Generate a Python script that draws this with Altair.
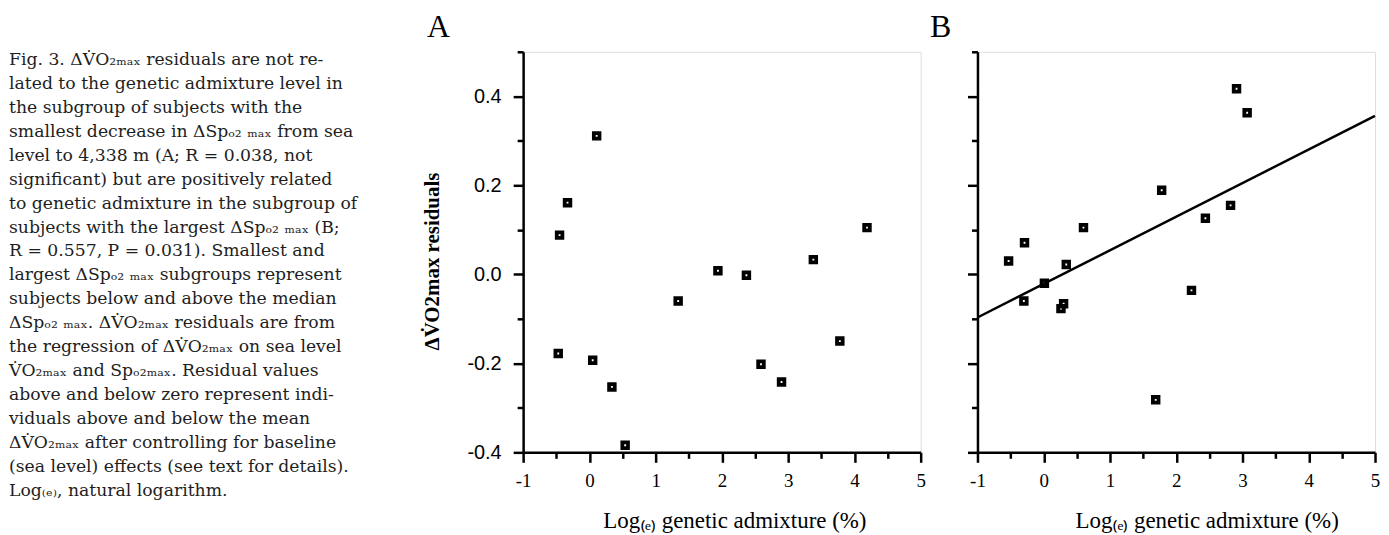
import altair as alt
import pandas as pd

# Panel A data (log(e) genetic admixture, residuals)
a_x = [-0.45, -0.33, 0.11, -0.47, 0.05, 0.34, 0.54, 1.34, 1.94, 2.37, 2.59, 2.90, 3.38, 3.78, 4.19]
a_y = [0.088, 0.161, 0.311, -0.178, -0.193, -0.253, -0.384, -0.060, 0.008, -0.002, -0.202, -0.242, 0.033, -0.150, 0.105]

# Panel B data
b_x = [-0.53, -0.29, -0.30, 0.01, 0.26, 0.30, 0.34, 0.60, 1.69, 1.78, 2.23, 2.44, 2.82, 2.91, 3.07]
b_y = [0.030, 0.071, -0.060, -0.020, -0.077, -0.066, 0.022, 0.105, -0.282, 0.189, -0.036, 0.126, 0.155, 0.417, 0.363]

# Regression line in panel B (end points)
line_x = [-1, 5]
line_y = [-0.097, 0.356]

caption_lines = [
    "Fig. 3. ΔV̇O₂ₘₐₓ residuals are not re-",
    "lated to the genetic admixture level in",
    "the subgroup of subjects with the",
    "smallest decrease in ΔSpₒ₂ ₘₐₓ from sea",
    "level to 4,338 m (A; R = 0.038, not",
    "significant) but are positively related",
    "to genetic admixture in the subgroup of",
    "subjects with the largest ΔSpₒ₂ ₘₐₓ (B;",
    "R = 0.557, P = 0.031). Smallest and",
    "largest ΔSpₒ₂ ₘₐₓ subgroups represent",
    "subjects below and above the median",
    "ΔSpₒ₂ ₘₐₓ. ΔV̇O₂ₘₐₓ residuals are from",
    "the regression of ΔV̇O₂ₘₐₓ on sea level",
    "V̇O₂ₘₐₓ and Spₒ₂ₘₐₓ. Residual values",
    "above and below zero represent indi-",
    "viduals above and below the mean",
    "ΔV̇O₂ₘₐₓ after controlling for baseline",
    "(sea level) effects (see text for details).",
    "Log₍ₑ₎, natural logarithm.",
]

x_major = [-1, 0, 1, 2, 3, 4, 5]
x_minor = [-0.5, 0.5, 1.5, 2.5, 3.5, 4.5]
y_major = [-0.4, -0.2, 0.0, 0.2, 0.4]
y_minor = [-0.3, -0.1, 0.1, 0.3, 0.5]

x_scale = alt.Scale(domain=[-1, 5], nice=False, zero=False)
y_scale = alt.Scale(domain=[-0.4, 0.5], nice=False, zero=False)

W, H = 399, 402
common = dict(tickWidth=2.5, domainWidth=2.5, domainColor="black", tickColor="black", grid=False)


def x_axis(title_x):
    return alt.Axis(
        orient="bottom", values=x_major,
        labelExpr="replace(format(datum.value, 'd'), '\u2212', '-')",
        tickSize=10, labelFont="Liberation Serif", labelFontSize=19, labelColor="black",
        labelPadding=9, labelFlush=False, labelOverlap=False,
        title="Log₍ₑ₎ genetic admixture (%)",
        titleFont="Liberation Serif", titleFontSize=23, titleFontWeight="normal",
        titleColor="black", titlePadding=19, titleX=title_x, **common,
    )


def x_minor_axis():
    return alt.Axis(orient="bottom", values=x_minor, tickSize=6, labels=False,
                    domain=False, title=None, tickWidth=2.5, tickColor="black", grid=False)


def y_axis(labels, title):
    kw = dict(
        orient="left", values=y_major,
        labelExpr="replace(format(datum.value, '.1f'), '\u2212', '-')",
        tickSize=10, labelFont="Liberation Sans", labelFontSize=20, labelColor="black",
        labelPadding=12, labelFlush=False, labelOverlap=False, labels=labels, **common,
    )
    if title:
        kw.update(
            title="ΔV̇O2max residuals", titleFont="Liberation Serif", titleFontSize=21,
            titleFontWeight="bold", titleColor="black", titlePadding=24, titleY=210,
        )
    else:
        kw.update(title=None)
    return alt.Axis(**kw)


def y_minor_axis():
    return alt.Axis(orient="left", values=y_minor, tickSize=6, labels=False,
                    domain=False, title=None, tickWidth=2.5, tickColor="black", grid=False)


df_a = pd.DataFrame({"x": a_x, "y": a_y})
df_b = pd.DataFrame({"x": b_x, "y": b_y})
df_line = pd.DataFrame({"x": line_x, "y": line_y})
df_cap = pd.DataFrame({"row": list(range(len(caption_lines))), "text": caption_lines})

pt = dict(shape="square", filled=False, size=32, strokeWidth=3.8, color="black", opacity=1)


def points(df, is_a, title_x):
    return alt.Chart(df).mark_point(**pt).encode(
        x=alt.X("x:Q", scale=x_scale, axis=x_axis(title_x)),
        y=alt.Y("y:Q", scale=y_scale, axis=y_axis(is_a, is_a)),
    )


def minor(df):
    return alt.Chart(df).mark_point(opacity=0).encode(
        x=alt.X("x:Q", scale=x_scale, axis=x_minor_axis()),
        y=alt.Y("y:Q", scale=y_scale, axis=y_minor_axis()),
    )


caption = alt.Chart(df_cap).mark_text(
    align="left", baseline="middle", font="DejaVu Serif", fontSize=17.3, color="#1e1e1e"
).encode(
    x=alt.value(-516),
    y=alt.Y("row:Q", scale=alt.Scale(domain=[0, 18], range=[8, 441]), axis=None),
    text="text:N",
)

label_a = alt.Chart(pd.DataFrame({"t": ["A"]})).mark_text(
    font="Liberation Serif", fontSize=32, align="center", baseline="alphabetic", color="black"
).encode(x=alt.value(-85), y=alt.value(-15), text="t:N")

panel_a = alt.layer(points(df_a, True, 212), minor(df_a), caption, label_a).resolve_scale(
    y="independent"
).resolve_axis(x="independent", y="independent").properties(width=W, height=H)

line_b = alt.Chart(df_line).mark_line(color="black", strokeWidth=2.5).encode(
    x=alt.X("x:Q", scale=x_scale, axis=None),
    y=alt.Y("y:Q", scale=y_scale, axis=None),
)
label_b = alt.Chart(pd.DataFrame({"t": ["B"]})).mark_text(
    font="Liberation Serif", fontSize=32, align="center", baseline="alphabetic", color="black"
).encode(x=alt.value(-37), y=alt.value(-15), text="t:N")

panel_b = alt.layer(line_b, points(df_b, False, 230), minor(df_b), label_b).resolve_axis(
    x="independent", y="independent"
).properties(width=W, height=H)

chart = alt.hconcat(panel_a, panel_b, spacing=2).properties(
    padding={"left": 0, "top": 1, "right": 0, "bottom": 0}
).configure_view(stroke=None).configure(background="white")

chart.save("out.html", embed_options={"renderer": "svg", "actions": False})
